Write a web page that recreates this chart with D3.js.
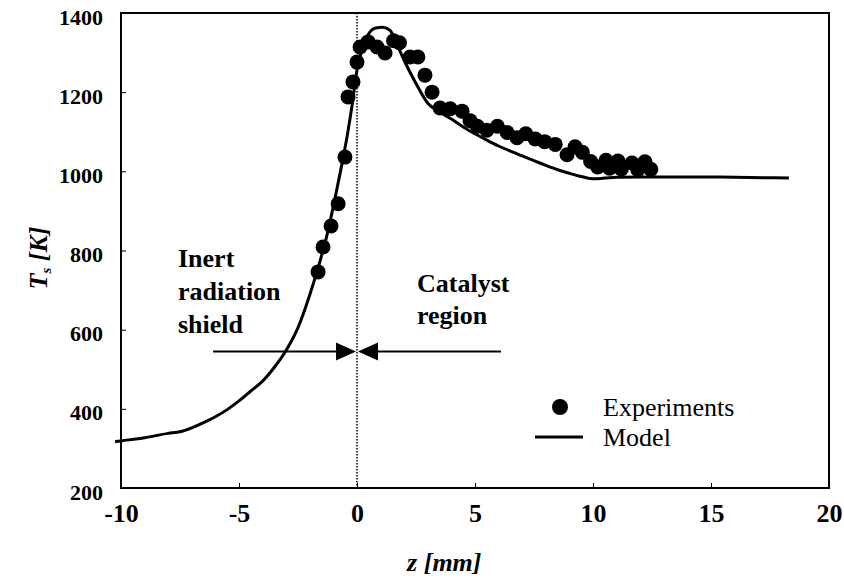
<!DOCTYPE html>
<html>
<head>
<meta charset="utf-8">
<script src="https://cdn.jsdelivr.net/npm/d3@7"></script>
<style>
  body { margin: 0; background: #fff; }
  svg { display: block; }
</style>
</head>
<body>
<div class="container"></div>
<script>
// experiments: z [mm], Ts [K]
var expZ = [-1.65, -1.44, -1.10, -0.80, -0.51, -0.38, -0.17, 0.00, 0.13, 0.47, 0.85, 1.19, 1.55, 1.80,
  2.25, 2.58, 2.88, 3.18, 3.52, 3.95, 4.45, 4.79, 5.10, 5.50, 5.95, 6.36, 6.78, 7.15, 7.55, 7.95,
  8.40, 8.90, 9.24, 9.55, 9.90, 10.20, 10.55, 10.70, 11.06, 11.20, 11.65, 11.90, 12.20, 12.45];
var expT = [746, 809, 862, 918, 1036, 1188, 1226, 1276, 1314, 1327, 1314, 1299, 1330, 1325,
  1289, 1289, 1243, 1200, 1160, 1158, 1152, 1128, 1114, 1104, 1114, 1098, 1085, 1095, 1082, 1075,
  1068, 1042, 1062, 1048, 1025, 1011, 1028, 1008, 1026, 1006, 1021, 1004, 1024, 1005];

// model curve
var modelZ = [-10.25, -10, -9, -8, -7.5, -7, -6.5, -6, -5.5, -5, -4.5, -4, -3.5, -3, -2.5, -2, -1.65,
  -1.3, -1.0, -0.7, -0.4, -0.2, 0, 0.25, 0.5, 0.8, 1.1, 1.4, 1.7, 2.0, 2.5, 3.0, 3.5, 4.0, 4.5,
  5.0, 5.5, 6.0, 6.5, 7.0, 7.5, 8.0, 8.5, 9.0, 9.5, 10.0, 10.5, 11, 12, 14, 16, 18.3];
var modelT = [317, 319, 327, 338, 342, 352, 365, 380, 398, 420, 445, 470, 505, 548, 605, 688, 756,
  832, 912, 1000, 1095, 1170, 1256, 1314, 1348, 1362, 1364, 1356, 1320, 1280, 1222, 1172, 1150, 1132, 1112,
  1095, 1079, 1064, 1051, 1039, 1027, 1015, 1004, 995, 987, 981, 983, 985, 986, 986, 985, 983];

var xTicks = [-10, -5, 0, 5, 10, 15, 20];
var yTicks = [200, 400, 600, 800, 1000, 1200, 1400];

// region arrows (z from, z to, at T)
var arrowT = 545;
var arrowLeft = [-6.1, 0];
var arrowRight = [6.1, 0];

const serif = '"Liberation Serif", "Times New Roman", serif';
const width = 844, height = 580;
const margin = {top: 13, right: 15, bottom: 92, left: 121};

const x = d3.scaleLinear().domain([-10, 20]).range([margin.left, width - margin.right]);
const y = d3.scaleLinear().domain([200, 1400]).range([height - margin.bottom, margin.top]);

const svg = d3.select('.container')
  .append('svg')
  .attr('width', width)
  .attr('height', height)
  .attr('font-family', serif);

// frame
svg.append('rect')
  .attr('x', x(-10)).attr('y', y(1400))
  .attr('width', x(20) - x(-10)).attr('height', y(200) - y(1400))
  .attr('fill', 'none').attr('stroke', '#000').attr('stroke-width', 2);

// axes, ticks inward
const xAxis = svg.append('g')
  .attr('transform', 'translate(0,' + y(200) + ')')
  .call(d3.axisBottom(x).tickValues(xTicks).tickSize(-5).tickPadding(16).tickFormat(d => String(d)));
xAxis.attr('font-family', serif);
xAxis.select('.domain').remove();
xAxis.selectAll('text').attr('font-size', 26).attr('font-weight', 'bold').attr('fill', '#000');

const yAxis = svg.append('g')
  .attr('transform', 'translate(' + x(-10) + ',0)')
  .call(d3.axisLeft(y).tickValues(yTicks).tickSize(-5).tickPadding(18).tickFormat(d => String(d)));
yAxis.attr('font-family', serif);
yAxis.select('.domain').remove();
yAxis.selectAll('text').attr('font-size', 22).attr('font-weight', 'bold').attr('fill', '#000').attr('dy', '0.5em');

// axis titles
const yt = svg.append('text')
  .attr('transform', 'translate(47,' + 258 + ') rotate(-90)')
  .attr('text-anchor', 'middle')
  .attr('font-size', 26).attr('font-weight', 'bold').attr('font-style', 'italic');
yt.append('tspan').text('T');
yt.append('tspan').attr('font-size', 15).attr('dy', 4).text('s');
yt.append('tspan').attr('dy', -4).text(' [K]');

svg.append('text')
  .attr('x', x(3.7)).attr('y', 571)
  .attr('text-anchor', 'middle')
  .attr('font-size', 26).attr('font-weight', 'bold').attr('font-style', 'italic')
  .text('z [mm]');

// dotted line at z = 0
svg.append('line')
  .attr('x1', x(0)).attr('x2', x(0))
  .attr('y1', y(1400)).attr('y2', y(200))
  .attr('stroke', '#000').attr('stroke-width', 1.5).attr('stroke-dasharray', '1.5,1.5');

// arrows
function arrow(a) {
  const x0 = x(a[0]), x1 = x(a[1]), yy = y(arrowT);
  const dir = x1 > x0 ? 1 : -1;
  const tip = x1 - dir * 1;
  svg.append('line')
    .attr('x1', x0).attr('x2', tip - dir * 18)
    .attr('y1', yy).attr('y2', yy)
    .attr('stroke', '#000').attr('stroke-width', 2);
  svg.append('path')
    .attr('d', 'M' + tip + ',' + yy + 'L' + (tip - dir * 20) + ',' + (yy - 9) + 'L' + (tip - dir * 20) + ',' + (yy + 9) + 'Z')
    .attr('fill', '#000');
}
arrow(arrowLeft);
arrow(arrowRight);

// region labels
const lab = svg.append('g').attr('font-size', 26).attr('font-weight', 'bold');
lab.append('text').attr('x', 178).attr('y', 267).text('Inert');
lab.append('text').attr('x', 178).attr('y', 300).text('radiation');
lab.append('text').attr('x', 178).attr('y', 333).text('shield');
lab.append('text').attr('x', 417).attr('y', 292).text('Catalyst');
lab.append('text').attr('x', 417).attr('y', 324).text('region');

// model
const modelData = modelZ.map((z, i) => [z, modelT[i]]);
svg.append('path')
  .datum(modelData)
  .attr('fill', 'none')
  .attr('stroke', '#000')
  .attr('stroke-width', 3)
  .attr('stroke-linejoin', 'round')
  .attr('d', d3.line().x(d => x(d[0])).y(d => y(d[1])).curve(d3.curveMonotoneX));

// experiments
svg.append('g')
  .selectAll('circle')
  .data(expZ.map((z, i) => [z, expT[i]]))
  .join('circle')
  .attr('cx', d => x(d[0]))
  .attr('cy', d => y(d[1]))
  .attr('r', 7.5)
  .attr('fill', '#000');

// legend
const lg = svg.append('g').attr('font-size', 26);
lg.append('circle').attr('cx', 560).attr('cy', 407).attr('r', 8).attr('fill', '#000');
lg.append('text').attr('x', 603).attr('y', 416).text('Experiments');
lg.append('line').attr('x1', 535).attr('x2', 583).attr('y1', 437).attr('y2', 437)
  .attr('stroke', '#000').attr('stroke-width', 3);
lg.append('text').attr('x', 603).attr('y', 446).text('Model');
</script>
</body>
</html>
